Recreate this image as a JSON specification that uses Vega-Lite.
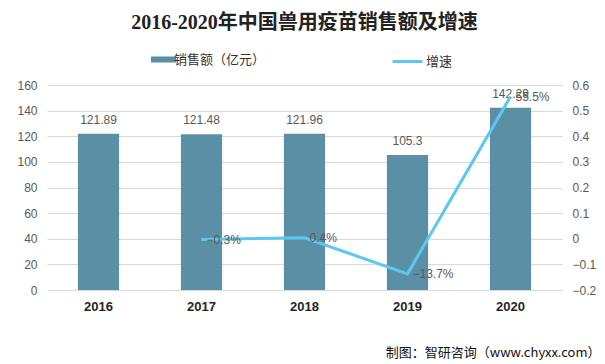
{
  "$schema": "https://vega.github.io/schema/vega-lite/v6.json",
  "width": 515,
  "height": 205,
  "autosize": {"type": "none"},
  "padding": {"left": 47, "top": 85, "right": 43, "bottom": 74},
  "background": "white",
  "title": {
    "text": "2016-2020年中国兽用疫苗销售额及增速",
    "font": "Liberation Serif, Noto Sans CJK SC",
    "fontSize": 20,
    "fontWeight": "bold",
    "color": "#222222",
    "anchor": "middle",
    "offset": 12
  },
  "config": {
    "view": {"stroke": null},
    "font": "Liberation Sans, Noto Sans CJK SC"
  },
  "data": {
    "values": [
      {"year": "2016", "sales": 121.89, "growth": null},
      {"year": "2017", "sales": 121.48, "growth": -0.003},
      {"year": "2018", "sales": 121.96, "growth": 0.004},
      {"year": "2019", "sales": 105.3, "growth": -0.137},
      {"year": "2020", "sales": 142.29, "growth": 0.555}
    ]
  },
  "encoding": {
    "x": {
      "field": "year",
      "type": "nominal",
      "scale": {"paddingInner": 0.6, "paddingOuter": 0.3},
      "axis": {
        "title": "制图：智研咨询（www.chyxx.com）",
        "titleFont": "Noto Sans CJK SC",
        "titleFontSize": 13,
        "titleFontWeight": "normal",
        "titleColor": "#111111",
        "titleAnchor": "end",
        "titleAlign": "right",
        "titleX": 553,
        "titleY": 62,
        "titleBaseline": "middle",
        "labelAngle": 0,
        "labelFont": "Liberation Sans",
        "labelFontSize": 13,
        "labelFontWeight": "bold",
        "labelColor": "#262626",
        "labelPadding": 10,
        "ticks": false,
        "domain": false
      }
    }
  },
  "layer": [
    {
      "encoding": {
        "y": {
          "field": "sales",
          "type": "quantitative",
          "scale": {"domain": [0, 160]},
          "axis": {
            "title": null,
            "values": [0, 20, 40, 60, 80, 100, 120, 140, 160],
            "labelColor": "#595959",
            "labelFontSize": 12,
            "labelPadding": 10,
            "ticks": false,
            "domain": false,
            "gridColor": "#d9d9d9"
          }
        }
      },
      "layer": [
        {
          "mark": {"type": "bar"},
          "encoding": {
            "fill": {
              "datum": "销售额（亿元）",
              "type": "nominal",
              "scale": {"range": ["#5B8FA6"]},
              "legend": {
                "title": null,
                "orient": "none",
                "legendX": 110,
                "legendY": -32,
                "symbolType": "M-2.5,-0.6H2.5V0.6H-2.5Z",
                "symbolSize": 100,
                "labelOffset": 4,
                "labelFontSize": 13,
                "labelColor": "#333333",
                "labelFont": "Noto Sans CJK SC"
              }
            }
          }
        },
        {
          "mark": {"type": "text", "dy": -7, "fontSize": 12, "color": "#595959", "baseline": "bottom"},
          "encoding": {
            "text": {"field": "sales", "type": "quantitative"}
          }
        }
      ]
    },
    {
      "encoding": {
        "y": {
          "field": "growth",
          "type": "quantitative",
          "scale": {"domain": [-0.2, 0.6]},
          "axis": {
            "title": null,
            "orient": "right",
            "values": [-0.2, -0.1, 0, 0.1, 0.2, 0.3, 0.4, 0.5, 0.6],
            "format": ".1~f",
            "labelColor": "#595959",
            "labelFontSize": 12,
            "labelPadding": 10,
            "ticks": false,
            "domain": false,
            "grid": false
          }
        }
      },
      "layer": [
        {
          "mark": {"type": "line", "strokeWidth": 3},
          "encoding": {
            "stroke": {
              "datum": "增速",
              "type": "nominal",
              "scale": {"range": ["#5BC8F2"]},
              "legend": {
                "title": null,
                "orient": "none",
                "legendX": 344,
                "legendY": -40,
                "symbolType": "stroke",
                "symbolSize": 900,
                "symbolStrokeWidth": 3,
                "labelOffset": 2,
                "labelFontSize": 13,
                "labelColor": "#333333",
                "labelFont": "Noto Sans CJK SC"
              }
            }
          }
        },
        {
          "mark": {"type": "text", "align": "left", "baseline": "middle", "dx": 5, "fontSize": 12, "color": "#595959"},
          "encoding": {
            "text": {"field": "growth", "type": "quantitative", "format": ".1%"}
          }
        }
      ]
    }
  ],
  "resolve": {"scale": {"y": "independent", "fill": "independent", "stroke": "independent"}}
}
